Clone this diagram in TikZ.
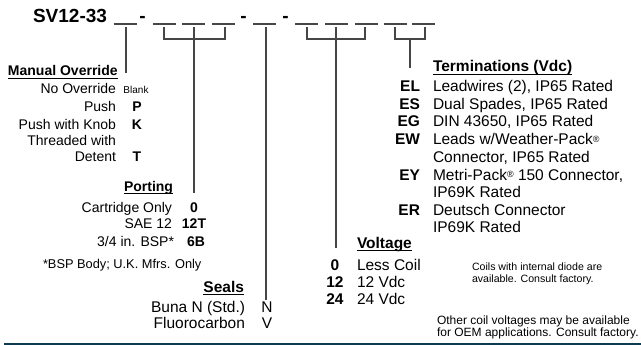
\documentclass[tikz,border=0pt]{standalone}
\usepackage{fontspec}
\setmainfont{Liberation Sans}
\definecolor{rulecol}{RGB}{14,58,82}
\definecolor{linecol}{RGB}{70,70,70}
\begin{document}
\begin{tikzpicture}[x=1pt,y=-1pt,
  every node/.style={inner sep=0pt, outer sep=0pt},
  titlef/.style={font=\fontsize{19}{22}\selectfont\bfseries},
  tl/.style={font=\fontsize{14}{16}\selectfont},
  tlb/.style={font=\fontsize{14}{16}\selectfont\bfseries},
  tr/.style={font=\fontsize{15.5}{18}\selectfont},
  trb/.style={font=\fontsize{15.5}{18}\selectfont\bfseries},
  tiny/.style={font=\fontsize{10}{11}\selectfont},
  note/.style={font=\fontsize{12}{14}\selectfont},
  fnote/.style={font=\fontsize{12.8}{14}\selectfont},
  notes/.style={font=\fontsize{10.6}{12}\selectfont},
  blank/.style={draw=linecol, line width=1.1pt},
  conn/.style={draw=linecol, line width=1.1pt},
  ul/.style={draw=black, line width=1.1pt},
  rulest/.style={draw=rulecol, line width=2pt}]
\useasboundingbox (0,0) rectangle (641,345);
\newcommand\ulnode[1]{\draw[ul] ([yshift=-2.4pt]#1.base west) -- ([yshift=-2.4pt]#1.base east);}

% ---- title line
\node[titlef, anchor=base east] (title) at (107,23) {SV12-33};
\node[titlef, anchor=base] (dA) at (142.5,23) {-};
\node[titlef, anchor=base] (dB) at (243.5,23) {-};
\node[titlef, anchor=base] (dC) at (285.5,23) {-};
\foreach \n/\c in {s1/125,s2/164.5,s3/193.5,s4/223.5,s5/264.5,s6/306.5,s7/336.5,s8/366,s9/395,s10/423.5}{
  \coordinate (\n) at (\c,24);
  \draw[blank] ([xshift=-11.5pt]\n) -- ([xshift=11.5pt]\n);
}

% ---- connector coordinates
\coordinate (moT) at (126,27);   \coordinate (moB) at (126,73);
\coordinate (pL) at (164,27); \coordinate (pC) at (194,27); \coordinate (pR) at (225,27);
\coordinate (pB) at (194,193);
\coordinate (seT) at (266,27); \coordinate (seB) at (266,300);
\coordinate (vL) at (307,27); \coordinate (vC) at (336,27); \coordinate (vR) at (365,27);
\coordinate (vB) at (336,248);
\coordinate (tL) at (395,27); \coordinate (tR) at (425,27);
\coordinate (tC) at (410,39); \coordinate (tB) at (410,68);

\draw[conn] (moT) -- (moB);
\draw[conn] (pL) -- ++(0,12) -| (pR);
\draw[conn] (pC) -- (pB);
\draw[conn] (seT) -- (seB);
\draw[conn] (vL) -- ++(0,12) -| (vR);
\draw[conn] (vC) -- (vB);
\draw[conn] (tL) -- ++(0,12) -| (tR);
\draw[conn] (tC) -- (tB);

% ---- Manual override
\node[tlb, anchor=base west] (mo) at (8,76) {Manual Override}; \ulnode{mo}
\node[tl, anchor=base east] (mo1) at (116,94) {No Override};
\node[tiny, anchor=base] (mo1c) at (136,94) {Blank};
\node[tl, anchor=base east] (mo2) at (116,112) {Push};
\node[tlb, anchor=base] (mo2c) at (137,112) {P};
\node[tl, anchor=base east] (mo3) at (116,130) {Push with Knob};
\node[tlb, anchor=base] (mo3c) at (137,130) {K};
\node[tl, anchor=base east] (mo4) at (116,146) {Threaded with};
\node[tl, anchor=base east] (mo5) at (116,161) {Detent};
\node[tlb, anchor=base] (mo5c) at (137,161) {T};

% ---- Porting
\node[tlb, anchor=base east] (po) at (173,191) {Porting}; \ulnode{po}
\node[tl, anchor=base east] (po1) at (172,212) {Cartridge Only};
\node[tlb, anchor=base] (po1c) at (194,212) {0};
\node[tl, anchor=base east] (po2) at (172,229) {SAE 12};
\node[tlb, anchor=base] (po2c) at (194,229) {12T};
\node[tl, anchor=base east] (po3) at (174,246) {3/4 in. BSP*};
\node[tlb, anchor=base] (po3c) at (196,246) {6B};
\node[fnote, anchor=base west] (fn) at (43,268) {*BSP Body; U.K. Mfrs. Only};

% ---- Seals
\node[trb, anchor=base east] (se) at (244,292) {Seals}; \ulnode{se}
\node[tr, anchor=base east] (se1) at (245,312) {Buna N (Std.)};
\node[tr, anchor=base] (se1c) at (267,312) {N};
\node[tr, anchor=base east] (se2) at (245,328) {Fluorocarbon};
\node[tr, anchor=base] (se2c) at (267,328) {V};

% ---- Terminations
\node[trb, anchor=base west] (te) at (433,72) {Terminations (Vdc)}; \ulnode{te}
\foreach \n/\y/\c/\d in {te1/92/EL/{Leadwires (2), IP65 Rated},
                        te2/109.5/ES/{Dual Spades, IP65 Rated},
                        te3/127/EG/{DIN 43650, IP65 Rated},
                        te4/145/EW/{Leads w/Weather-Pack\raisebox{0.15em}{\fontsize{9}{9}\selectfont®}},
                        te6/180/EY/{Metri-Pack\raisebox{0.15em}{\fontsize{9}{9}\selectfont®} 150 Connector,},
                        te8/215/ER/{Deutsch Connector}}{
  \node[trb, anchor=base east] (\n c) at (420,\y) {\c};
  \node[tr, anchor=base west] (\n) at (433,\y) {\d};
}
\node[tr, anchor=base west] (te5) at (433,162.5) {Connector, IP65 Rated};
\node[tr, anchor=base west] (te7) at (433,197.5) {IP69K Rated};
\node[tr, anchor=base west] (te9) at (433,232.5) {IP69K Rated};

% ---- Voltage
\node[trb, anchor=base west] (vo) at (357,248) {Voltage}; \ulnode{vo}
\node[trb, anchor=base] (vo1c) at (335,270) {0};
\node[tr, anchor=base west] (vo1) at (357,270) {Less Coil};
\node[trb, anchor=base] (vo2c) at (335,287) {12};
\node[tr, anchor=base west] (vo2) at (357,287) {12 Vdc};
\node[trb, anchor=base] (vo3c) at (335,304) {24};
\node[tr, anchor=base west] (vo3) at (357,304) {24 Vdc};

% ---- notes
\node[notes, anchor=base west] (n1) at (472,270) {Coils with internal diode are};
\node[notes, anchor=base west] (n2) at (472,282) {available. Consult factory.};
\node[note, anchor=base west] (n3) at (437,324) {Other coil voltages may be available};
\node[note, anchor=base west] (n4) at (437,336) {for OEM applications. Consult factory.};

% ---- bottom rule
\coordinate (rA) at (4,344); \coordinate (rB) at (641,344);
\draw[rulest] (rA) -- (rB);
\end{tikzpicture}
\end{document}
